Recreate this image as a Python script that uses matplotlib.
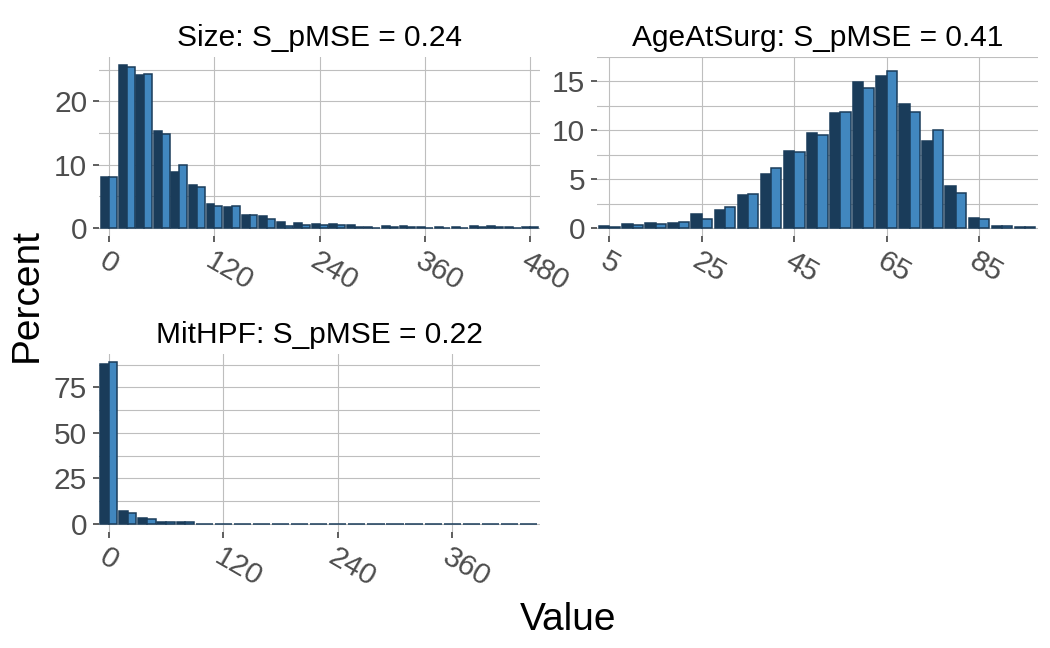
import numpy as np
import matplotlib
matplotlib.use("Agg")
import matplotlib.pyplot as plt
from matplotlib.transforms import ScaledTranslation

size_bins = np.arange(0, 481, 20)
size_obs = [8.1, 25.7, 24.1, 15.3, 8.9, 6.7, 3.7, 3.3, 2.0, 1.8, 0.9, 0.7, 0.6,
            0.6, 0.4, 0.1, 0.25, 0.25, 0.1, 0.1, 0.1, 0.25, 0.25, 0.1, 0.2]
size_syn = [8.0, 25.4, 24.3, 14.8, 9.9, 6.5, 3.5, 3.4, 2.1, 1.4, 0.3, 0.5, 0.4,
            0.4, 0.1, 0.05, 0.1, 0.2, 0.05, 0.05, 0.05, 0.2, 0.2, 0.05, 0.2]
size_ticks = [0, 120, 240, 360, 480]
size_yticks = [0, 10, 20]

age_bins = np.arange(5, 96, 5)
age_obs = [0.26, 0.46, 0.56, 0.56, 1.44, 1.83, 3.41, 5.54, 7.9, 9.76, 11.82,
           14.9, 15.56, 12.71, 8.88, 4.26, 1.05, 0.26, 0.16]
age_syn = [0.13, 0.36, 0.43, 0.66, 0.98, 2.19, 3.47, 6.13, 7.76, 9.56, 11.89,
           14.38, 16.02, 11.89, 10.02, 3.64, 0.92, 0.2, 0.07]
age_ticks = [5, 25, 45, 65, 85]
age_yticks = [0, 5, 10, 15]

mit_bins = np.arange(0, 441, 20)
mit_obs = [87.8, 7.1, 3.3, 1.2, 1.1] + [0.05] * 18
mit_syn = [88.9, 6.0, 2.7, 1.1, 1.1] + [0.05] * 18
mit_ticks = [0, 120, 240, 360]
mit_yticks = [0, 25, 50, 75]

titles = ["Size: S_pMSE = 0.24", "AgeAtSurg: S_pMSE = 0.41", "MitHPF: S_pMSE = 0.22"]

# --- style ---
COL_OBS = "#1A3C5A"
COL_SYN = "#4187BF"
GRID = "#BEBEBE"
TICK_TXT = "#4D4D4D"
plt.rcParams["font.family"] = ["Liberation Sans", "DejaVu Sans"]

W, H = 1050, 648
fig = plt.figure(figsize=(W / 100, H / 100), dpi=100)


def add_panel(left, top, right, bottom):
    return fig.add_axes([left / W, 1 - bottom / H, (right - left) / W, (bottom - top) / H])


def draw(ax, bins, obs, syn, bw, xlim, xticks, yticks, title):
    bins = np.asarray(bins, dtype=float)
    obs = np.asarray(obs)
    syn = np.asarray(syn)
    bar_w = 0.45 * bw
    ax.bar(bins - bar_w / 2, obs, width=bar_w, color=COL_OBS, edgecolor=COL_OBS, linewidth=1.1, zorder=3)
    ax.bar(bins + bar_w / 2, syn, width=bar_w, color=COL_SYN, edgecolor=COL_OBS, linewidth=1.1, zorder=3)

    ymax = max(obs.max(), syn.max())
    ax.set_ylim(-0.05 * ymax, 1.05 * ymax)
    ax.set_xlim(*xlim)

    ax.set_xticks(xticks)
    ax.set_xticklabels([str(t) for t in xticks])
    ax.set_yticks(yticks)
    ax.set_yticks([(a + b) / 2 for a, b in zip(yticks[:-1], yticks[1:])] + [yticks[-1] + (yticks[1] - yticks[0]) / 2], minor=True)

    ax.set_axisbelow(True)
    ax.grid(which="major", color=GRID, linewidth=0.8)
    ax.grid(which="minor", axis="y", color=GRID, linewidth=0.8)
    for s in ax.spines.values():
        s.set_visible(False)

    ax.tick_params(which="major", length=4.5, width=1.1, color="#333333",
                   labelsize=21.5, labelcolor=TICK_TXT, pad=4)
    ax.tick_params(axis="x", pad=12)
    ax.tick_params(which="minor", length=0)
    shift = ScaledTranslation(-7 / 100, 0, fig.dpi_scale_trans)
    for lab in ax.get_xticklabels():
        lab.set_rotation(-30)
        lab.set_ha("left")
        lab.set_va("center")
        lab.set_rotation_mode("anchor")
        lab.set_transform(lab.get_transform() + shift)

    ax.set_title(title, fontsize=21.5, color="black", pad=7.9)


ax1 = add_panel(99, 57, 540, 236)
draw(ax1, size_bins, size_obs, size_syn, 20, (-11.5, 491), size_ticks, size_yticks, titles[0])

ax2 = add_panel(597, 57, 1038, 236)
draw(ax2, age_bins, age_obs, age_syn, 5, (2.3, 97.8), age_ticks, age_yticks, titles[1])

ax3 = add_panel(99, 354, 540, 532)
draw(ax3, mit_bins, mit_obs, mit_syn, 20, (-10.3, 452), mit_ticks, mit_yticks, titles[2])

fig.text(27 / W, 1 - 294.5 / H, "Percent", rotation=90, ha="center", va="center", fontsize=28)
fig.text(568 / W, 1 - 630 / H, "Value", ha="center", va="baseline", fontsize=28)

fig.savefig("out.png", dpi=100, facecolor="white")
